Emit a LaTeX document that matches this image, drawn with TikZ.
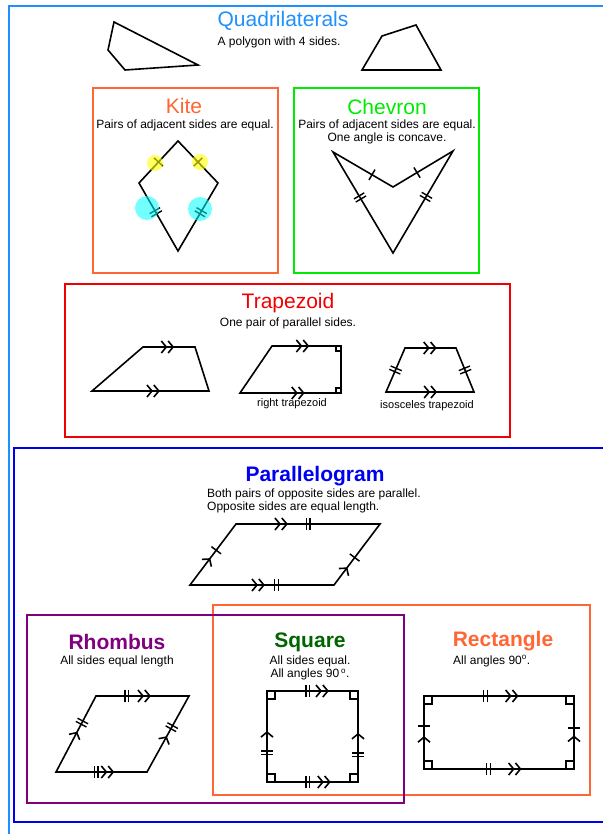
\documentclass[tikz,border=0pt]{standalone}
\usepackage{fontspec}
\setmainfont{Liberation Sans}
\usetikzlibrary{arrows.meta, positioning, calc, decorations.markings}

\definecolor{quadblue}{RGB}{30,144,255}
\definecolor{kiteorange}{RGB}{255,102,51}
\definecolor{chevgreen}{RGB}{0,235,0}
\definecolor{trapred}{RGB}{240,0,0}
\definecolor{parablue}{RGB}{0,0,240}
\definecolor{rhombpurple}{RGB}{128,0,128}
\definecolor{sqgreen}{RGB}{0,100,0}
\definecolor{hiyellow}{RGB}{255,255,0}
\definecolor{hicyan}{RGB}{0,255,255}

\tikzset{
  box/.style={line width=1.5pt},
  fig/.style={draw, line width=1.6pt, line join=miter},
  title/.style={font=\fontsize{21}{24}\selectfont, inner sep=0pt},
  btitle/.style={font=\fontsize{21}{24}\selectfont\bfseries, inner sep=0pt},
  sub/.style={font=\fontsize{12}{13.5}\selectfont, inner sep=0pt, align=center},
  lbl/.style={font=\fontsize{11}{13}\selectfont, inner sep=0pt},
  barb/.tip={Straight Barb[length=5pt, width=12pt, line width=1.6pt]},
  dbarb/.tip={barb[] barb[]},
  onearr/.style={postaction={decorate, decoration={markings,
    mark=at position #1 with {\arrow{barb}}}}},
  twoarr/.style={postaction={decorate, decoration={markings,
    mark=at position #1 with {\arrow{dbarb}}}}},
  onetick/.style={postaction={decorate, decoration={markings,
    mark=at position #1 with {\draw[line width=1.5pt] (0,-6pt) -- (0,6pt);}}}},
  twotick/.style={postaction={decorate, decoration={markings,
    mark=at position #1 with {\draw[line width=1.4pt] (-1.8pt,-6pt) -- (-1.8pt,6pt) (1.8pt,-6pt) -- (1.8pt,6pt);}}}},
  rt/.style={line width=1.3pt}
}

\begin{document}
\begin{tikzpicture}[x=1pt, y=-1pt, line cap=butt]
    \useasboundingbox (0,0) rectangle (602,834);

    % Frames
    \draw[quadblue, box] (9,6) rectangle (700,900);
    \draw[kiteorange, box] (93,88) rectangle (278,273);
    \draw[chevgreen, box] (294,88) rectangle (479,273);
    \draw[trapred, box] (65,284) rectangle (510,437);
    \draw[parablue, box] (14,448) rectangle (700,822);
    \draw[kiteorange, box] (213,605) rectangle (590,795);
    \draw[rhombpurple, box] (27,615) rectangle (404,803);

    % Quadrilaterals
    \node[title, quadblue] (quad) at (283,21) {Quadrilaterals};
    \node[sub] (quadsub) at (279,42) {A polygon with 4 sides.};
    \coordinate (a1) at (114,22);
    \coordinate (a2) at (108,50);
    \coordinate (a3) at (125,70);
    \coordinate (a4) at (198,65);
    \draw[fig] (a1) -- (a2) -- (a3) -- (a4) -- cycle;
    \coordinate (b1) at (362,70);
    \coordinate (b2) at (382,36);
    \coordinate (b3) at (416,25);
    \coordinate (b4) at (441,70);
    \draw[fig] (b1) -- (b2) -- (b3) -- (b4) -- cycle;

    % Kite
    \node[title, kiteorange] (kite) at (184,106) {Kite};
    \node[sub] (kitesub) at (185,125) {Pairs of adjacent sides are equal.};
    \coordinate (k1) at (178,141);
    \coordinate (k2) at (139,183);
    \coordinate (k3) at (178,251);
    \coordinate (k4) at (218,183);
    \draw[fig] (k1) -- (k2) -- (k3) -- (k4) -- cycle;
    \path[onetick=0.5] (k1) -- (k2);
    \path[onetick=0.5] (k1) -- (k4);
    \path[twotick=0.43] (k2) -- (k3);
    \path[twotick=0.43] (k4) -- (k3);
    \fill[hiyellow, fill opacity=0.6] (155,163) circle (8) (200,162) circle (8);
    \fill[hicyan, fill opacity=0.55] (147,208) circle (12) (200,209) circle (12);

    % Chevron
    \node[title, chevgreen] (chev) at (387,107) {Chevron};
    \node[sub] (chevsub) at (387,132) {Pairs of adjacent sides are equal.\\One angle is concave.};
    \coordinate (c1) at (333,152);
    \coordinate (c2) at (393,187);
    \coordinate (c3) at (453,151);
    \coordinate (c4) at (393,253);
    \draw[fig] (c1) -- (c2) -- (c3) -- (c4) -- cycle;
    \path[onetick=0.65] (c1) -- (c2);
    \path[onetick=0.4] (c2) -- (c3);
    \path[twotick=0.45] (c1) -- (c4);
    \path[twotick=0.45] (c3) -- (c4);

    % Trapezoid
    \node[title, trapred] (trap) at (288,303) {Trapezoid};
    \node[sub] (trapsub) at (288,323) {One pair of parallel sides.};
    \coordinate (t1) at (92,391);
    \coordinate (t2) at (143,347);
    \coordinate (t3) at (195,347);
    \coordinate (t4) at (209,391);
    \draw[fig] (t1) -- (t2) -- (t3) -- (t4) -- cycle;
    \path[twoarr=0.6] (t2) -- (t3);
    \path[twoarr=0.58] (t1) -- (t4);
    \coordinate (u1) at (240,393);
    \coordinate (u2) at (272,346);
    \coordinate (u3) at (341,346);
    \coordinate (u4) at (341,393);
    \draw[fig] (u1) -- (u2) -- (u3) -- (u4) -- cycle;
    \path[twoarr=0.54] (u2) -- (u3);
    \path[twoarr=0.64] (u1) -- (u4);
    \draw[rt] (u3) rectangle ++(-5,5);
    \draw[rt] (u4) rectangle ++(-5,-5);
    \node[lbl] (rtrap) at (292,404) {right trapezoid};
    \coordinate (v1) at (386,392);
    \coordinate (v2) at (405,348);
    \coordinate (v3) at (456,348);
    \coordinate (v4) at (474,392);
    \draw[fig] (v1) -- (v2) -- (v3) -- (v4) -- cycle;
    \path[twoarr=0.62] (v2) -- (v3);
    \path[twoarr=0.58] (v1) -- (v4);
    \path[twotick=0.5] (v1) -- (v2);
    \path[twotick=0.5] (v4) -- (v3);
    \node[lbl] (itrap) at (427,406) {isosceles trapezoid};

    % Parallelogram
    \node[btitle, parablue] (para) at (315,476) {Parallelogram};
    \node[sub, align=left, anchor=west] (parasub) at (207,501) {Both pairs of opposite sides are parallel.\\Opposite sides are equal length.};
    \coordinate (p1) at (190,585);
    \coordinate (p2) at (236,524);
    \coordinate (p3) at (380,524);
    \coordinate (p4) at (334,585);
    \draw[fig] (p1) -- (p2) -- (p3) -- (p4) -- cycle;
    \path[twoarr=0.36, twotick=0.5] (p2) -- (p3);
    \path[twoarr=0.52, twotick=0.6] (p1) -- (p4);
    \path[onearr=0.44, onetick=0.57] (p1) -- (p2);
    \path[onearr=0.29, onetick=0.45] (p4) -- (p3);

    % Rhombus
    \node[btitle, rhombpurple] (rhomb) at (117,642) {Rhombus};
    \node[sub] (rhombsub) at (117,661) {All sides equal length};
    \coordinate (r1) at (56,772);
    \coordinate (r2) at (96,696);
    \coordinate (r3) at (189,696);
    \coordinate (r4) at (147,772);
    \draw[fig] (r1) -- (r2) -- (r3) -- (r4) -- cycle;
    \path[twotick=0.33, twoarr=0.59] (r2) -- (r3);
    \path[twotick=0.44, twoarr=0.64] (r1) -- (r4);
    \path[onearr=0.53, twotick=0.65] (r1) -- (r2);
    \path[onearr=0.47, twotick=0.59] (r4) -- (r3);

    % Square
    \node[btitle, sqgreen] (sq) at (310,642) {Square};
    \node[sub] (sqsub) at (310,668) {All sides equal.\\All angles 90\,\textsuperscript{o}.};
    \coordinate (s1) at (267,691);
    \coordinate (s2) at (358,691);
    \coordinate (s3) at (358,782);
    \coordinate (s4) at (267,782);
    \draw[fig] (s1) -- (s2) -- (s3) -- (s4) -- cycle;
    \path[twotick=0.45, twoarr=0.68] (s1) -- (s2);
    \path[twotick=0.45, twoarr=0.7] (s4) -- (s3);
    \path[twotick=0.32, onearr=0.56] (s4) -- (s1);
    \path[twotick=0.30, onearr=0.54] (s3) -- (s2);
    \draw[rt] (s1) rectangle ++(8,8);
    \draw[rt] (s2) rectangle ++(-8,8);
    \draw[rt] (s3) rectangle ++(-8,-8);
    \draw[rt] (s4) rectangle ++(8,-8);

    % Rectangle
    \node[btitle, kiteorange] (rect) at (503,641) {Rectangle};
    \node[sub, anchor=west] (rectsub) at (453,661) {All angles 90\textsuperscript{o}.};
    \coordinate (e1) at (424,696);
    \coordinate (e2) at (574,696);
    \coordinate (e3) at (574,769);
    \coordinate (e4) at (424,769);
    \draw[fig] (e1) -- (e2) -- (e3) -- (e4) -- cycle;
    \path[twotick=0.41, twoarr=0.63] (e1) -- (e2);
    \path[twotick=0.43, twoarr=0.65] (e4) -- (e3);
    \path[onetick=0.59, onearr=0.45] (e4) -- (e1);
    \path[onetick=0.56, onearr=0.46] (e3) -- (e2);
    \draw[rt] (e1) rectangle ++(8,8);
    \draw[rt] (e2) rectangle ++(-8,8);
    \draw[rt] (e3) rectangle ++(-8,-8);
    \draw[rt] (e4) rectangle ++(8,-8);
\end{tikzpicture}
\end{document}
